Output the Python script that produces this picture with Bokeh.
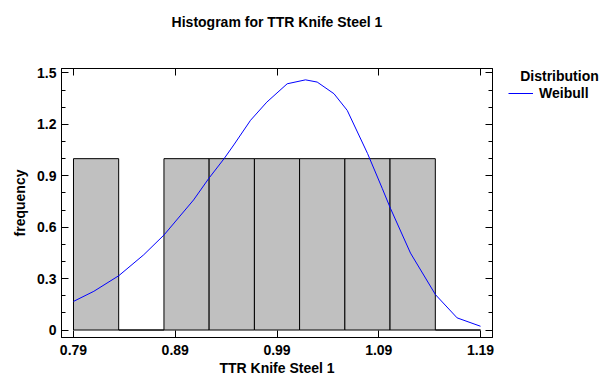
from bokeh.plotting import figure
from bokeh.models import (ColumnDataSource, FixedTicker, PrintfTickFormatter, LinearAxis,
                          Legend, LegendItem, Range1d, Label)
from bokeh.layouts import row
from bokeh.embed import file_html
from bokeh.resources import INLINE

# ---- data ----
title_text = "Histogram for TTR Knife Steel 1"
x_title = "TTR Knife Steel 1"
y_title = "frequency"
bin_edges = [0.79, 0.8344, 0.8789, 0.9233, 0.9678, 1.0122, 1.0567, 1.1011, 1.1456, 1.19]
counts = [1, 0, 1, 1, 1, 1, 1, 1, 0]
weibull_x = [0.79, 0.81, 0.8345, 0.859, 0.879, 0.908, 0.923, 0.938, 0.9475, 0.964, 0.980,
             1.000, 1.018, 1.0295, 1.046, 1.059, 1.079, 1.0934, 1.1015, 1.1212, 1.1458,
             1.167, 1.19]
weibull_y = [0.167, 0.226, 0.317, 0.439, 0.555, 0.759, 0.885, 1.0, 1.08, 1.224, 1.33,
             1.437, 1.46, 1.447, 1.379, 1.282, 1.03, 0.827, 0.71, 0.449, 0.206, 0.071,
             0.022]
x_ticks = [0.79, 0.89, 0.99, 1.09, 1.19]
y_ticks = [0, 0.3, 0.6, 0.9, 1.2, 1.5]
legend_title = "Distribution"
legend_label = "Weibull"

FONT = "Liberation Sans"
FS = "14px"
BLUE = "#0000ff"

H = 378
W_MAIN, W_LEG = 500, 103
ML, MR, MT, MB = 61, 8, 68, 40

p = figure(width=W_MAIN, height=H, output_backend="svg", toolbar_location=None,
           x_range=Range1d(0.77821, 1.20179), y_range=Range1d(-0.0436, 1.5262),
           min_border_left=ML, min_border_right=MR, min_border_top=MT, min_border_bottom=MB,
           x_axis_location=None, y_axis_location=None)
p.xgrid.visible = False
p.ygrid.visible = False
p.outline_line_color = "black"
p.outline_line_width = 1
p.background_fill_color = "white"
p.border_fill_color = "white"

src = ColumnDataSource(dict(left=bin_edges[:-1], right=bin_edges[1:],
                            top=counts, bottom=[0] * len(counts)))
p.quad(left="left", right="right", top="top", bottom="bottom", source=src,
       fill_color="#c0c0c0", line_color="black", line_width=1)

p.line(weibull_x, weibull_y, line_color=BLUE, line_width=1)

y_minor = [round(0.1 * i, 1) for i in range(16) if i % 3 != 0]


def style_axis(ax, labels, minor):
    ax.axis_line_color = "black"
    ax.major_tick_line_color = "black"
    ax.minor_tick_line_color = "black"
    ax.major_tick_in = 7
    ax.major_tick_out = 0
    ax.minor_tick_in = 4 if minor else 0
    ax.minor_tick_out = 0
    ax.major_label_text_font = FONT
    ax.major_label_text_font_style = "bold"
    ax.major_label_text_font_size = FS
    ax.major_label_text_color = "black"
    ax.major_label_standoff = 7
    ax.axis_label_text_font = FONT
    ax.axis_label_text_font_style = "bold"
    ax.axis_label_text_font_size = FS
    ax.axis_label_text_color = "black"
    if not labels:
        ax.formatter = PrintfTickFormatter(format="")
        ax.major_label_text_font_size = "1px"
        ax.major_label_standoff = 0


xb = LinearAxis(ticker=FixedTicker(ticks=x_ticks), formatter=PrintfTickFormatter(format="%.2f"),
                axis_label=x_title, axis_label_standoff=2)
style_axis(xb, True, False)
# top frame edge: mirrored ticks, carrying the chart title as its label
xt = LinearAxis(ticker=FixedTicker(ticks=x_ticks), axis_label=title_text, axis_label_standoff=39)
style_axis(xt, False, False)
yl = LinearAxis(ticker=FixedTicker(ticks=y_ticks, minor_ticks=y_minor),
                formatter=PrintfTickFormatter(format="%.1f"),
                axis_label=y_title, axis_label_standoff=6)
style_axis(yl, True, True)
yl.major_label_standoff = 5
yl.major_label_overrides = {0: "0"}
yr = LinearAxis(ticker=FixedTicker(ticks=y_ticks, minor_ticks=y_minor))
style_axis(yr, False, True)

p.add_layout(xb, "below")
p.add_layout(xt, "above")
p.add_layout(yl, "left")
p.add_layout(yr, "right")

# legend panel to the right of the plot; its frame has the same vertical extent
lf = figure(width=W_LEG, height=H, output_backend="svg", toolbar_location=None,
            x_range=Range1d(W_MAIN, W_MAIN + W_LEG), y_range=Range1d(H - MB, MT),
            min_border_left=0, min_border_right=0, min_border_top=MT, min_border_bottom=MB,
            x_axis_location=None, y_axis_location=None)
lf.xgrid.visible = False
lf.ygrid.visible = False
lf.outline_line_color = None
lf.background_fill_color = "white"
lf.border_fill_color = "white"
# legend key for the Weibull curve (draws nothing itself)
key = lf.line([float("nan")], [float("nan")], line_color=BLUE, line_width=1)

lf.add_layout(Label(x=559, y=76, text=legend_title,
                    text_align="center", text_baseline="middle", text_font=FONT,
                    text_font_style="bold", text_font_size=FS, text_color="black"))
leg = Legend(items=[LegendItem(label=legend_label, renderers=[key])],
             location=(8, (H - MB) - 104), padding=0, margin=0, spacing=0,
             glyph_width=25, glyph_height=20, label_standoff=6,
             label_text_font=FONT, label_text_font_style="bold", label_text_font_size=FS,
             label_text_color="black", border_line_alpha=0, background_fill_alpha=0)
lf.add_layout(leg, "center")

layout = row(p, lf, spacing=0)
open("out.html", "w").write(file_html(layout, INLINE))
